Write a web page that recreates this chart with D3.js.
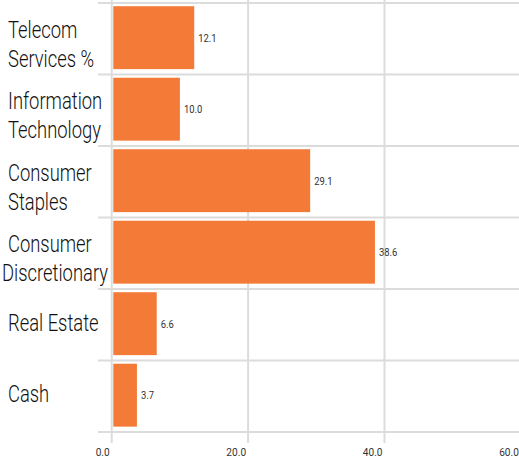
<!DOCTYPE html>
<html>
<head>
<meta charset="utf-8">
<script src="https://cdn.jsdelivr.net/npm/d3@7"></script>
<style>
  body { margin: 0; background: #fff; }
  text { font-family: Roboto, "Liberation Sans", sans-serif; }
</style>
</head>
<body>
<svg id="chart" width="519" height="461"></svg>
<script>
// sector weights
const categories = ["Telecom\nServices %", "Information\nTechnology", "Consumer\nStaples", "Consumer\nDiscretionary", "Real Estate", "Cash"]
const values = [12.1, 10.0, 29.1, 38.6, 6.6, 3.7]
const tickValues = [0, 20, 40, 60]

const barColor = "#f37b37"
const gridColor = "#dcdcdc"

let svg = d3.select("#chart")

let x = d3.scaleLinear()
          .domain([0, 60])
          .range([111.7, 520.9])

let y = d3.scaleBand()
          .domain(categories)
          .range([3, 432])
          .padding(0)

const bw = y.bandwidth()

// vertical grid
svg.append("g")
   .selectAll("line")
   .data(tickValues)
   .enter()
   .append("line")
   .attr("x1", (d) => x(d))
   .attr("x2", (d) => x(d))
   .attr("y1", 0)
   .attr("y2", 443)
   .attr("stroke", gridColor)
   .attr("stroke-width", 2)

// horizontal grid at band edges
let edges = categories.map((c) => y(c)).concat([y(categories[categories.length - 1]) + bw])
svg.append("g")
   .selectAll("line")
   .data(edges)
   .enter()
   .append("line")
   .attr("x1", 98)
   .attr("x2", 519)
   .attr("y1", (d) => d)
   .attr("y2", (d) => d)
   .attr("stroke", gridColor)
   .attr("stroke-width", 2)

// bars
svg.append("g")
   .selectAll("rect")
   .data(values)
   .enter()
   .append("rect")
   .attr("x", x(0) + 1.6)
   .attr("y", (d, i) => y(categories[i]) + bw * 0.045)
   .attr("width", (d) => x(d) - x(0) - 1.6)
   .attr("height", bw * 0.88)
   .attr("fill", barColor)

// value labels
svg.append("g")
   .selectAll("text")
   .data(values)
   .enter()
   .append("text")
   .attr("transform", (d, i) => "translate(" + (x(d) + 4) + "," + (y(categories[i]) + bw * 0.485 + 4) + ") scale(0.82,1)")
   .attr("font-size", 11.5)
   .attr("fill", "#333")
   .text((d) => d.toFixed(1))

// category labels
const sx = 0.8
let labels = svg.append("g")
                .selectAll("text")
                .data(categories)
                .enter()
                .append("text")
                .attr("font-size", 23)
                .attr("font-weight", 300)
                .attr("fill", "#111")
                .attr("transform", (d) => {
                  let n = d.split("\n").length
                  let base = y(d) + bw / 2 + 6 - (n - 1) * 7
                  return "translate(0," + base + ") scale(" + sx + ",1)"
                })

labels.selectAll("tspan")
      .data((d) => d.split("\n"))
      .enter()
      .append("tspan")
      .attr("y", (d, i) => i * 29)
      .text((d) => d)
      .attr("x", function () {
        let w = this.getComputedTextLength() * sx
        return Math.max(0, Math.min(8, 108 - w)) / sx
      })

// x tick labels
svg.append("g")
   .selectAll("text")
   .data(tickValues)
   .enter()
   .append("text")
   .attr("transform", (d) => "translate(" + (x(d) - 2) + ",456) scale(0.88,1)")
   .attr("text-anchor", "end")
   .attr("font-size", 11.5)
   .attr("fill", "#333")
   .text((d) => d.toFixed(1))
</script>
</body>
</html>
